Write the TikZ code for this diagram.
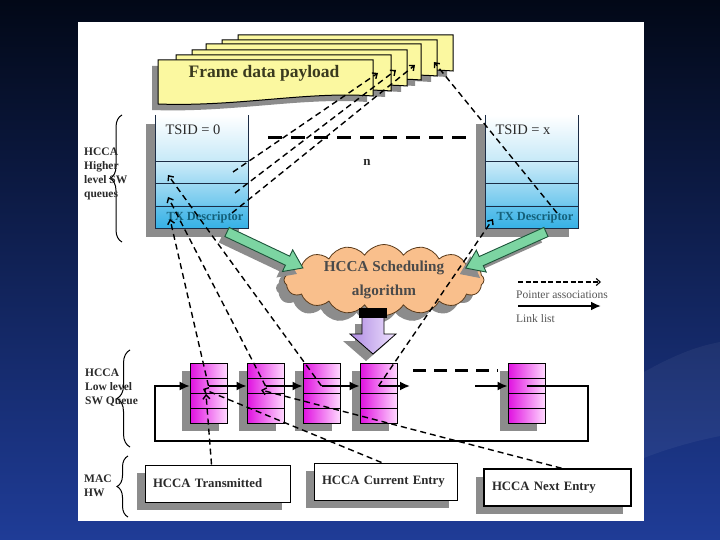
\documentclass[tikz,border=0pt]{standalone}
\usepackage{fontspec}
\setmainfont{Liberation Serif}
\usetikzlibrary{arrows.meta,shapes.symbols,shadows,decorations.pathreplacing}
\definecolor{slidetop}{HTML}{020817}
\definecolor{slidebot}{HTML}{1F3C97}
\definecolor{paper}{HTML}{FBF8A0}
\definecolor{papertext}{HTML}{3A3A1E}
\definecolor{cloudfill}{HTML}{F9BF8C}
\definecolor{cloudline}{HTML}{5A3A1A}
\definecolor{pinkdark}{HTML}{E010E0}
\definecolor{pinklight}{HTML}{FFD8FF}
\definecolor{qblue}{HTML}{36B1E6}
\definecolor{qline}{HTML}{1B2C45}
\definecolor{greenfill}{HTML}{7CD5A2}
\definecolor{greenline}{HTML}{1D553A}
\definecolor{lilac}{HTML}{EFE2FF}
\definecolor{lilacdark}{HTML}{B08CE2}
\definecolor{boxshadow}{HTML}{8C8C8C}
\definecolor{inktext}{HTML}{2A2A2A}
\definecolor{descteal}{HTML}{14607A}
\newcommand\pagepath[2]{(#1,#2) -- (#1+215,#2) -- (#1+215,#2+36) .. controls (#1+150,#2+31) and (#1+80,#2+47) .. (#1,#2+44) -- cycle}
\newcommand\arrowpath[1]{(0,-5) -- (#1-17,-5) -- (#1-17,-12) -- (#1,0) -- (#1-17,12) -- (#1-17,5) -- (0,5) -- cycle}
\begin{document}
\begin{tikzpicture}[x=1pt,y=-1pt,
		pointer/.style={line width=1.4pt,dash pattern=on 6pt off 4pt,-{Straight Barb[length=4pt,width=7pt]}},
		link/.style={line width=1.8pt,-{Latex[length=10pt,width=9pt]}},
		gapline/.style={line width=3pt,dash pattern=on 14pt off 9pt},
		cell/.style={draw=qline,line width=0.9pt},
		entry/.style={draw=black,line width=0.8pt,left color=pinkdark,right color=pinklight,minimum width=37pt,minimum height=60pt,inner sep=0pt,drop shadow={shadow xshift=-8pt,shadow yshift=-8pt,fill=boxshadow,opacity=1}},
		hwbox/.style={draw=black,line width=1pt,fill=white,minimum height=37pt,inner xsep=8pt,font=\bfseries\fontsize{12.8}{15}\selectfont,text=inktext,align=left,drop shadow={shadow xshift=-8pt,shadow yshift=-8pt,fill=boxshadow,opacity=1}},
		greenarrow/.style={draw=greenline,fill=greenfill,line width=0.9pt},
		sidelabel/.style={font=\bfseries\fontsize{11.5}{14}\selectfont,text=inktext,align=left,anchor=west,inner sep=0pt},
		sidebrace/.style={decorate,decoration={brace,amplitude=#1},line width=1pt},
		tsid/.style={font=\fontsize{14.5}{16}\selectfont,text=inktext,inner sep=0pt},
		desc/.style={font=\bfseries\fontsize{12.4}{14}\selectfont,text=descteal,inner sep=0pt},
		legtext/.style={font=\fontsize{11.5}{13}\selectfont,text=inktext!80,anchor=west,inner sep=0pt}]
	\useasboundingbox (0,0) rectangle (720,540);
	% slide
		\shade[top color=slidetop,bottom color=slidebot] (0,0) rectangle (720,540);
		\fill[white,opacity=0.05] (644,372) .. controls (680,352) and (700,346) .. (720,342) -- (720,436) .. controls (690,442) and (664,450) .. (644,458) -- cycle;
		\fill[white] (78,22) rectangle (644,521);
	% frame data payload
		\foreach \px/\py in {238/35,222/40,206/44,192/50,176/55,158/60}{
			\fill[boxshadow] \pagepath{\px-6}{\py+6};
			\draw[fill=paper,line width=1pt] \pagepath{\px}{\py};
		}
		\node[font=\bfseries\fontsize{17.5}{20}\selectfont,text=papertext] (payload) at (264,73) {Frame data payload};
		\coordinate (pay1) at (378,73);
		\coordinate (pay2) at (396,70);
		\coordinate (pay3) at (415,65);
		\coordinate (pay4) at (434,62);
	% higher level queues
		\foreach \qx/\qn/\ql in {155/q0/0,485/qx/x}{
			\fill[boxshadow] (\qx-9,124) rectangle (\qx+84,237);
			\shade[top color=white,bottom color=qblue!28] (\qx,115) rectangle (\qx+93,161);
			\shade[top color=qblue!25,bottom color=qblue!48] (\qx,161) rectangle (\qx+93,183);
			\shade[top color=qblue!48,bottom color=qblue!72] (\qx,183) rectangle (\qx+93,206);
			\shade[top color=qblue!78,bottom color=qblue] (\qx,206) rectangle (\qx+93,228);
			\draw[cell] (\qx,115) -- (\qx,228) -- (\qx+93,228) -- (\qx+93,115);
			\draw[cell] (\qx,161) -- (\qx+93,161) (\qx,183) -- (\qx+93,183) (\qx,206) -- (\qx+93,206);
			\node[tsid] (\qn-id) at (\qx+38,130) {TSID = \ql};
			\node[desc] (\qn-tx) at (\qx+50,218) {TX Descriptor};
		}
		\coordinate (q0-c2L) at (168,175);
		\coordinate (q0-c3L) at (168,197);
		\coordinate (q0-c4L) at (170,219);
		\coordinate (q0-c2R) at (233,172);
		\coordinate (q0-c3R) at (235,193);
		\coordinate (q0-c4R) at (232,213);
		\coordinate (qx-c4L) at (493,219);
		\coordinate (qx-c4R) at (557,213);
		\coordinate (gapA) at (268,138);
		\coordinate (gapB) at (470,138);
		\draw[gapline] (gapA) -- (gapB);
		\node[font=\bfseries\fontsize{13}{15}\selectfont,text=inktext] (nq) at (367,162) {n};
	% scheduler
		\node[cloud,cloud puffs=16,cloud puff arc=115,aspect=3.2,draw=cloudline,line width=0.8pt,fill=cloudfill,minimum width=200pt,minimum height=50pt,inner sep=0pt,align=center,
			font=\bfseries\fontsize{15.2}{24}\selectfont,text=inktext!85,
			drop shadow={shadow xshift=-8pt,shadow yshift=-8pt,fill=boxshadow,opacity=1}] (sched) at (384,280) {HCCA Scheduling\\algorithm};
		\begin{scope}[shift={(221,238)},rotate=-25.35]
			\fill[boxshadow] \arrowpath{84};
		\end{scope}
		\begin{scope}[shift={(227,232)},rotate=-25.35]
			\draw[greenarrow] \arrowpath{84};
		\end{scope}
		\begin{scope}[shift={(540,238)},rotate=-155.8]
			\fill[boxshadow] \arrowpath{88};
		\end{scope}
		\begin{scope}[shift={(546,232)},rotate=-155.8]
			\draw[greenarrow] \arrowpath{88};
		\end{scope}
		\fill[boxshadow] (355,324) -- (377,324) -- (377,341) -- (389,341) -- (366,361) -- (343,341) -- (355,341) -- cycle;
		\shadedraw[left color=lilacdark,right color=lilac,draw=black,line width=0.8pt] (362,317) -- (384,317) -- (384,334) -- (396,334) -- (373,354) -- (350,334) -- (362,334) -- cycle;
		\fill[black] (359,308) rectangle (387,318);
	% legend
		\coordinate (legP1) at (518,282);
		\coordinate (legP2) at (601,282);
		\coordinate (legL1) at (518,306);
		\coordinate (legL2) at (601,306);
		\draw[pointer,line width=1.1pt,dash pattern=on 5pt off 2.5pt] (legP1) -- (legP2);
		\node[legtext] (legPtxt) at (516,295) {Pointer associations};
		\draw[link,line width=2.2pt] (legL1) -- (legL2);
		\node[legtext] (legLtxt) at (516,319) {Link list};
	% low level queue
		\foreach \bx [count=\i] in {208.5,265.5,321.5,378.5,526.5}{
			\node[entry] (b\i) at (\bx,393) {};
			\draw[line width=0.8pt] (\bx-18.5,378) -- (\bx+18.5,378) (\bx-18.5,393) -- (\bx+18.5,393) (\bx-18.5,408) -- (\bx+18.5,408);
			\coordinate (link\i) at (\bx,386);
		}
		\foreach \i/\j in {1/2,2/3,3/4}
			\draw[link] (link\i) -- (b\j.west |- link\i);
		\coordinate (gapL) at (410,386);
		\coordinate (gapR) at (475,386);
		\coordinate (loopR) at (588,441);
		\coordinate (loopL) at (155,441);
		\draw[link] (link4) -- (gapL);
		\draw[link] (gapR) -- (b5.west |- gapR);
		\draw[link,line width=1.5pt] (link5) -| (loopR) -- (loopL) |- (b1.west |- link1);
		\coordinate (gapC) at (413,370);
		\coordinate (gapD) at (498,370);
		\draw[gapline,dash pattern=on 13pt off 8pt] (gapC) -- (gapD);
		\coordinate (b1in) at (206,394);
		\coordinate (b1ptr) at (203,389);
		\coordinate (b2ptr) at (261,390);
	% MAC registers
		\node[hwbox,minimum width=145pt,text width=129pt] (hw1) at (217.5,483.5) {HCCA Transmitted};
		\node[hwbox,minimum width=143pt,text width=127pt] (hw2) at (385.5,481.5) {HCCA Current Entry};
		\node[hwbox,minimum width=147pt,text width=131pt,line width=1.6pt] (hw3) at (557.5,487.5) {HCCA Next Entry};
	% pointer associations
		\draw[pointer] (q0-c2R) -- (pay1);
		\draw[pointer] (q0-c3R) -- (pay2);
		\draw[pointer] (q0-c4R) -- (pay3);
		\draw[pointer] (qx-c4R) -- (pay4);
		\draw[pointer] (link1) -- (q0-c4L);
		\draw[pointer] (link2) -- (q0-c3L);
		\draw[pointer] (link3) -- (q0-c2L);
		\draw[pointer] (link4) -- (qx-c4L);
		\draw[pointer] ([xshift=-6pt]hw1.north) -- (b1in);
		\draw[pointer] ([xshift=-4pt]hw2.north) -- (b1ptr);
		\draw[pointer] ([xshift=4pt]hw3.north) -- (b2ptr);
	% braces and labels
		\draw[sidebrace=12pt] (122,242) -- (122,115);
		\draw[sidebrace=13pt] (130,447) -- (130,350);
		\draw[sidebrace=11pt] (128,517) -- (128,456);
		\node[sidelabel] (lblhigh) at (84,174) {HCCA\\Higher\\level SW\\queues};
		\node[sidelabel] (lbllow) at (85,388) {HCCA\\Low level\\SW Queue};
		\node[sidelabel] (lblmac) at (84,486) {MAC\\HW};
\end{tikzpicture}
\end{document}
